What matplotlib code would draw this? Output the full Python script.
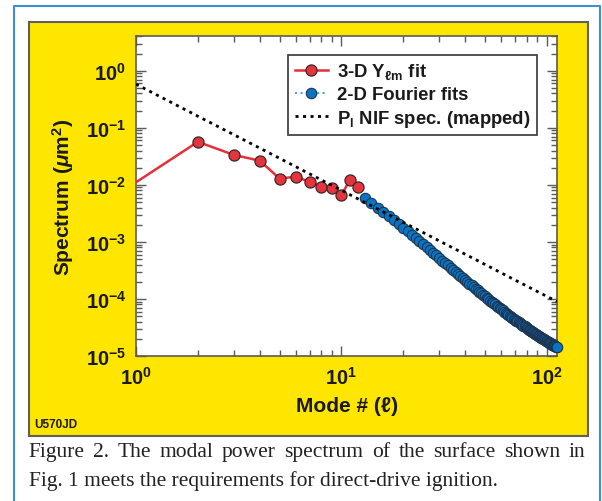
import matplotlib
matplotlib.use("Agg")
import matplotlib.pyplot as plt
from matplotlib.patches import Rectangle
from matplotlib.lines import Line2D
from matplotlib.ticker import FixedLocator, FixedFormatter, LogLocator, NullFormatter

plt.rcParams['font.family'] = ['Liberation Sans', 'DejaVu Sans']
plt.rcParams['font.weight'] = 'bold'
plt.rcParams['mathtext.fontset'] = 'custom'
plt.rcParams['mathtext.rm'] = 'Liberation Sans:bold'
plt.rcParams['mathtext.bf'] = 'Liberation Sans:bold'
plt.rcParams['mathtext.it'] = 'Liberation Sans:bold:italic'

# 3-D Y_lm fit (modes 1..12)
ylm_modes = [1, 2, 3, 4, 5, 6, 7, 8, 9, 10, 11, 12]
ylm_power = [0.0111, 0.0568, 0.0334, 0.0266, 0.0129, 0.0139, 0.0113, 0.00933,
             0.00896, 0.00655, 0.0123, 0.00922]

# 2-D Fourier fits (modes 13..112)
fourier_modes = list(range(13, 113))
fourier_power = [
    5.89e-3, 4.79e-3, 3.95e-3, 3.30e-3, 2.79e-3, 2.38e-3, 2.05e-3, 1.78e-3,
    1.53e-3, 1.34e-3, 1.17e-3, 1.03e-3, 9.10e-4, 8.09e-4, 7.23e-4, 6.46e-4,
    5.79e-4, 5.21e-4, 4.71e-4, 4.28e-4, 3.88e-4, 3.54e-4, 3.24e-4, 2.98e-4,
    2.74e-4, 2.52e-4, 2.33e-4, 2.16e-4, 2.00e-4, 1.86e-4, 1.73e-4, 1.62e-4,
    1.52e-4, 1.42e-4, 1.33e-4, 1.25e-4, 1.18e-4, 1.11e-4, 1.04e-4, 9.86e-5,
    9.33e-5, 8.85e-5, 8.41e-5, 8.00e-5, 7.60e-5, 7.24e-5, 6.90e-5, 6.59e-5,
    6.30e-5, 6.01e-5, 5.74e-5, 5.50e-5, 5.26e-5, 5.04e-5, 4.84e-5, 4.67e-5,
    4.50e-5, 4.34e-5, 4.19e-5, 4.04e-5, 3.90e-5, 3.77e-5, 3.64e-5, 3.52e-5,
    3.40e-5, 3.30e-5, 3.19e-5, 3.09e-5, 3.00e-5, 2.90e-5, 2.82e-5, 2.74e-5,
    2.67e-5, 2.59e-5, 2.52e-5, 2.45e-5, 2.39e-5, 2.33e-5, 2.27e-5, 2.21e-5,
    2.16e-5, 2.10e-5, 2.05e-5, 2.00e-5, 1.95e-5, 1.91e-5, 1.86e-5, 1.82e-5,
    1.78e-5, 1.74e-5, 1.70e-5, 1.66e-5, 1.63e-5, 1.59e-5, 1.56e-5, 1.53e-5,
    1.50e-5, 1.47e-5, 1.44e-5, 1.41e-5,
]

# NIF specification (mapped)
nif_modes = [1, 2, 3, 5, 7, 10, 15, 20, 30, 50, 70, 100, 112]
nif_power = [0.582, 0.160, 0.0755, 0.0292, 0.0156, 0.00804, 0.00378, 0.00221,
             0.00104, 4.03e-4, 2.15e-4, 1.11e-4, 9.0e-5]

x_ticks = [1, 10, 100]
x_tick_labels = [r'$10^{0}$', r'$10^{1}$', r'$10^{2}$']
y_ticks = [1e-5, 1e-4, 1e-3, 1e-2, 1e-1, 1e0]
y_tick_labels = [r'$10^{-5}$', r'$10^{-4}$', r'$10^{-3}$', r'$10^{-2}$',
                 r'$10^{-1}$', r'$10^{0}$']

caption_lines = ["Figure 2. The modal power spectrum of the surface shown in",
                 "Fig. 1 meets the requirements for direct-drive ignition."]

W, H = 602, 502
fig = plt.figure(figsize=(W / 100, H / 100), dpi=100)
fig.patch.set_facecolor('white')

# outer blue frame
fig.add_artist(Line2D([13.5 / W, 13.5 / W, 599.5 / W, 599.5 / W],
                      [0, 1 - 6.7 / H, 1 - 6.7 / H, 0],
                      color='#3b8fd2', lw=1.5))

# yellow panel
panel = Rectangle((29.3 / W, 1 - 437 / H), (588.3 - 29.3) / W, (437 - 22.7) / H,
                  facecolor='#ffe600', edgecolor='#5e5e5e', lw=1.5,
                  transform=fig.transFigure, zorder=-1)
fig.patches.append(panel)

ax = fig.add_axes([136 / W, 1 - 357 / H, (557.3 - 136) / W, (357 - 37) / H])
ax.set_facecolor('white')

ax.plot(ylm_modes, ylm_power, color='#e5303b', lw=1.8, marker='o', ms=8,
        markerfacecolor='#e6343f', markeredgecolor='#3a2a2a', mew=0.9,
        markevery=list(range(1, len(ylm_modes))), zorder=3,
        label=r'3-D Y$_{\mathrm{\ell m}}$ fit')
ax.plot(fourier_modes, fourier_power, color='#49a3e0', lw=1.5, ls=':',
        marker='o', ms=7.5, markerfacecolor='#0a74c2',
        markeredgecolor='#1c3552', mew=0.8, clip_on=False, zorder=3,
        label='2-D Fourier fits')
ax.plot(nif_modes, nif_power, color='black', lw=2.0, ls=(0, (1.1, 1.6)),
        zorder=4, label=r'P$_{\mathrm{l}}$ NIF spec. (mapped)')

ax.set_xscale('log')
ax.set_yscale('log')
ax.set_xlim(1, 112.5)
ax.set_ylim(1e-5, 4.07)

ax.xaxis.set_major_locator(FixedLocator(x_ticks))
ax.xaxis.set_major_formatter(FixedFormatter(x_tick_labels))
ax.yaxis.set_major_locator(FixedLocator(y_ticks))
ax.yaxis.set_major_formatter(FixedFormatter(y_tick_labels))
ax.xaxis.set_minor_locator(LogLocator(base=10, subs=range(2, 10), numticks=20))
ax.yaxis.set_minor_locator(LogLocator(base=10, subs=range(2, 10), numticks=20))
ax.xaxis.set_minor_formatter(NullFormatter())
ax.yaxis.set_minor_formatter(NullFormatter())

ax.tick_params(which='both', direction='in', top=True, right=True,
               color='#5a5a5a', width=1.0, labelsize=14.5, labelcolor='#1a1a1a')
ax.tick_params(which='major', length=7)
ax.tick_params(which='minor', length=4)
ax.tick_params(axis='y', which='major', pad=7)
ax.tick_params(axis='x', which='major', pad=7)
for s in ax.spines.values():
    s.set_color('#5a5a5a')
    s.set_linewidth(1.2)

fig.text(346.6 / W, 1 - 407 / H, 'Mode # (ℓ)', ha='center', va='center',
         fontsize=15, fontweight='bold', color='#1a1a1a')
fig.text(63 / W, 1 - 197 / H, r'Spectrum ($\mu$m$^{2}$)', ha='center',
         va='center', rotation=90, fontsize=15, fontweight='bold', color='#1a1a1a')
fig.text(34 / W, 1 - 425 / H, 'U570JD', ha='left', va='center', fontsize=8.5,
         fontweight='bold', color='#1a1a1a')

leg = ax.legend(loc='upper right', bbox_to_anchor=(537 / W, 1 - 56 / H),
                bbox_transform=fig.transFigure, borderaxespad=0, fancybox=False,
                fontsize=13.3, handlelength=1.8, handletextpad=0.5,
                labelspacing=0.24, borderpad=0.35, framealpha=1)
leg.get_frame().set_edgecolor('#444444')
leg.get_frame().set_linewidth(1.3)
for t in leg.get_texts():
    t.set_color('#1a1a1a')

# caption, first line justified
cap_kw = dict(fontsize=15.5, family='Liberation Serif', fontweight='normal',
              color='#222222', va='center', ha='left')
renderer = fig.canvas.get_renderer()
words = caption_lines[0].split()
texts = [fig.text(0, 1 - 453 / H, w, **cap_kw) for w in words]
widths = [t.get_window_extent(renderer).width for t in texts]
x0, x1 = 28.8, 585.4
gap = ((x1 - x0) - sum(widths)) / (len(words) - 1)
x = x0
for t, w in zip(texts, widths):
    t.set_x(x / W)
    x += w + gap
fig.text(x0 / W, 1 - 481 / H, caption_lines[1], **cap_kw)

fig.savefig('out.png', dpi=100)
